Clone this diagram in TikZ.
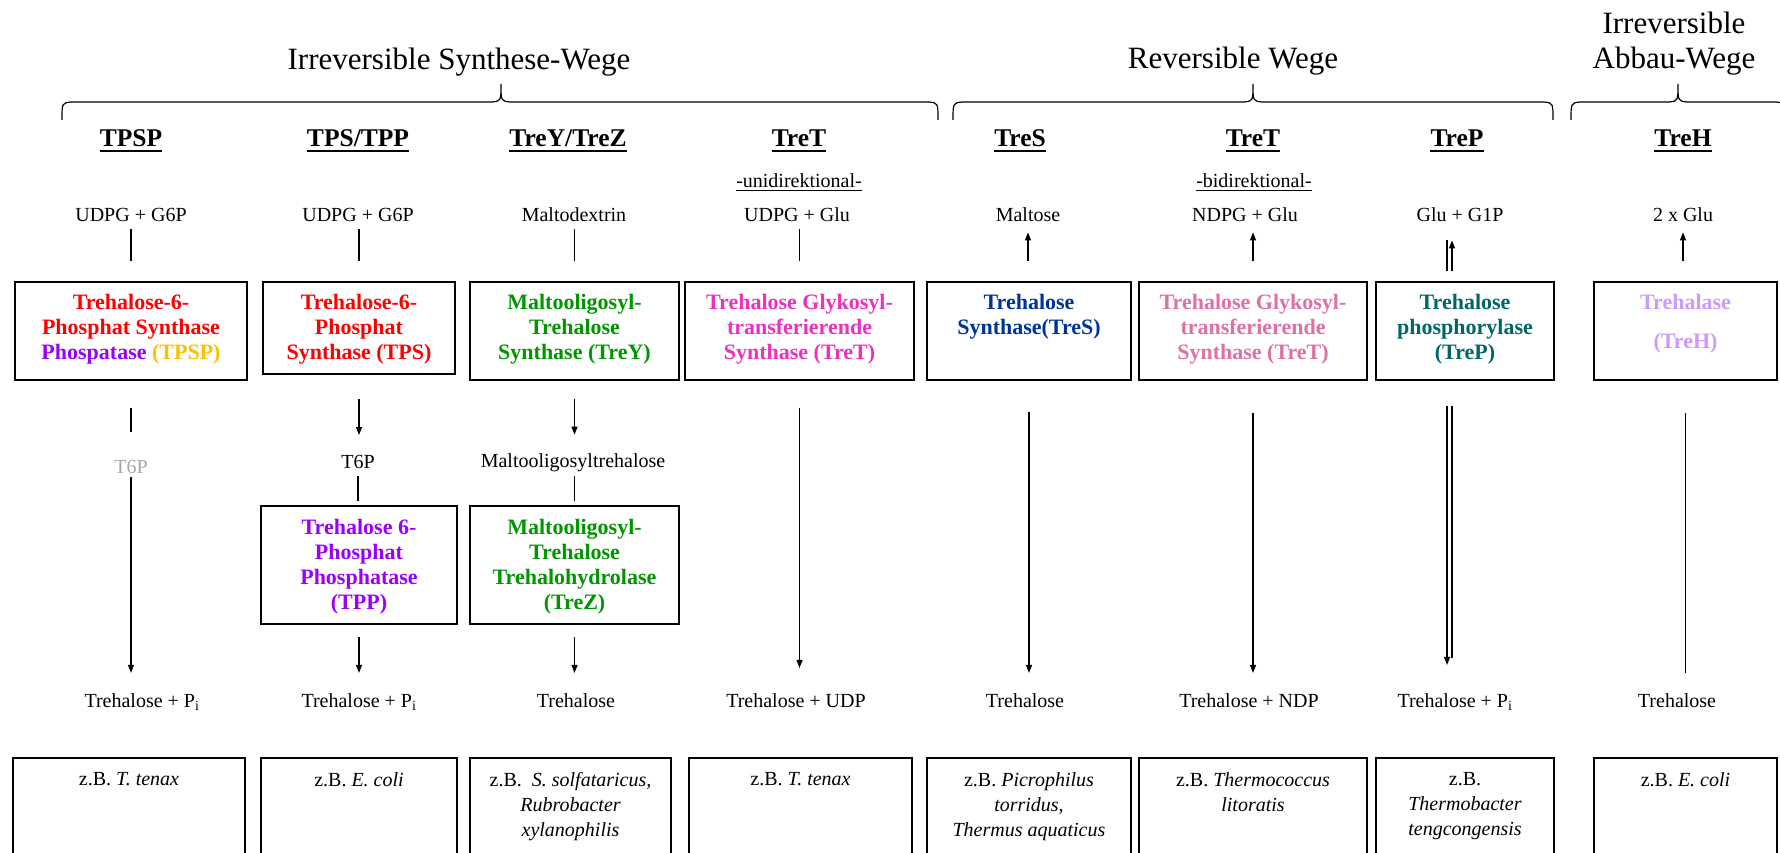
\documentclass[tikz,border=0pt]{standalone}
\usepackage{fontspec}
\setmainfont{Liberation Serif}
\usetikzlibrary{arrows.meta}
\definecolor{tpsred}{RGB}{255,0,0}
\definecolor{tppviolet}{RGB}{153,0,255}
\definecolor{tpsporange}{RGB}{255,192,0}
\definecolor{treygreen}{RGB}{0,150,0}
\definecolor{tretmagenta}{RGB}{238,48,190}
\definecolor{tresblue}{RGB}{0,51,153}
\definecolor{tretpink}{RGB}{222,112,164}
\definecolor{trepteal}{RGB}{0,102,102}
\definecolor{trehlilac}{RGB}{204,153,255}
\definecolor{tsixgray}{RGB}{166,166,166}
\def\wegbrace(#1,#2,#3){\draw[bracepath] (#1,120) .. controls (#1,103) .. ({#1+9},102) -- ({#3-9},102) .. controls (#3,101) .. (#3,84) .. controls (#3,101) .. ({#3+9},102) -- ({#2-9},102) .. controls (#2,103) .. (#2,120);}
\tikzset{
  txt/.style={inner sep=0pt, anchor=base, font=\fontsize{20}{25}\selectfont},
  titletxt/.style={inner sep=0pt, font=\fontsize{31}{35}\selectfont},
  headtxt/.style={inner sep=0pt, anchor=base, font=\fontsize{25.5}{30}\selectfont\bfseries},
  enzbox/.style={draw, line width=1.5pt, inner sep=0pt},
  enztxt/.style={inner sep=0pt, anchor=north, align=center, font=\fontsize{22}{25}\selectfont\bfseries},
  orgtxt/.style={inner sep=0pt, anchor=north, align=center, font=\fontsize{20}{25}\selectfont},
  link/.style={line width=1.2pt},
  arr/.style={link, -{Triangle[length=8pt,width=6pt]}},
  bracepath/.style={line width=1.2pt},
  uline/.style={line width=1.2pt}
}
\begin{document}
\begin{tikzpicture}[x=1pt,y=-1pt]
	\clip (0,0) rectangle (1780,853);
	%%%%% TITLES %%%%%
	\node[titletxt, anchor=base] (tirr) at (459,70) {Irreversible Synthese-Wege};
	\node[titletxt, anchor=base] (trev) at (1233,69) {Reversible Wege};
	\node[titletxt, anchor=north, align=center] (tabb) at (1674,12) {Irreversible\\Abbau-Wege};
	\wegbrace(62,938,501)
	\wegbrace(953,1553,1253)
	\wegbrace(1571,1785,1678)
	
	%%%%% HEADINGS %%%%%
	\node[headtxt] (h1) at (131,147) {TPSP};
	\node[headtxt] (h2) at (358,147) {TPS/TPP};
	\node[headtxt] (h3) at (568,147) {TreY/TreZ};
	\node[headtxt] (h4) at (799,147) {TreT};
	\node[headtxt] (h5) at (1020,147) {TreS};
	\node[headtxt] (h6) at (1253,147) {TreT};
	\node[headtxt] (h7) at (1457,147) {TreP};
	\node[headtxt] (h8) at (1683,147) {TreH};
	\foreach \n in {1,...,8}
		\draw[uline] ([yshift=-4pt]h\n.base west) -- ([yshift=-4pt]h\n.base east);
	\node[txt] (uni) at (799,188) {-unidirektional-};
	\node[txt] (bidi) at (1254,188) {-bidirektional-};
	\draw[link, line width=1pt] ([yshift=-2.5pt]uni.base west) -- ([yshift=-2.5pt]uni.base east);
	\draw[link, line width=1pt] ([yshift=-2.5pt]bidi.base west) -- ([yshift=-2.5pt]bidi.base east);
	
	%%%%% SUBSTRATES %%%%%
	\node[txt] (s1) at (131,222) {UDPG + G6P};
	\node[txt] (s2) at (358,222) {UDPG + G6P};
	\node[txt] (s3) at (574,222) {Maltodextrin};
	\node[txt] (s4) at (797,222) {UDPG + Glu};
	\node[txt] (s5) at (1028,222) {Maltose};
	\node[txt] (s6) at (1245,222) {NDPG + Glu};
	\node[txt] (s7) at (1460,222) {Glu + G1P};
	\node[txt] (s8) at (1683,222) {2 x Glu};
	
	%%%%% ENZYMES %%%%%
	\node[enzbox, minimum width=232pt, minimum height=98pt] (e1) at (131,331) {};
	\node[enzbox, minimum width=192pt, minimum height=92pt] (e2) at (359,328) {};
	\node[enzbox, minimum width=209pt, minimum height=98pt] (e3) at (574.5,331) {};
	\node[enzbox, minimum width=229pt, minimum height=98pt] (e4) at (799.5,331) {};
	\node[enzbox, minimum width=204pt, minimum height=98pt] (e5) at (1029,331) {};
	\node[enzbox, minimum width=228pt, minimum height=98pt] (e6) at (1253,331) {};
	\node[enzbox, minimum width=178pt, minimum height=98pt] (e7) at (1465,331) {};
	\node[enzbox, minimum width=183pt, minimum height=98pt] (e8) at (1685.5,331) {};
	\node[enzbox, minimum width=196pt, minimum height=118pt] (e2b) at (359,565) {};
	\node[enzbox, minimum width=209pt, minimum height=118pt] (e3b) at (574.5,565) {};
	
	\node[enztxt, text=tpsred] (n1) at ([yshift=-13pt]e1.north) {Trehalose-6-\\Phosphat Synthase\\\textcolor{tppviolet}{Phospatase} \textcolor{tpsporange}{(TPSP)}};
	\node[enztxt, text=tpsred] (n2) at ([yshift=-13pt]e2.north) {Trehalose-6-\\Phosphat\\Synthase (TPS)};
	\node[enztxt, text=treygreen] (n3) at ([yshift=-13pt]e3.north) {Maltooligosyl-\\Trehalose\\Synthase (TreY)};
	\node[enztxt, text=tretmagenta] (n4) at ([yshift=-13pt]e4.north) {Trehalose Glykosyl-\\transferierende\\Synthase (TreT)};
	\node[enztxt, text=tresblue] (n5) at ([yshift=-13pt]e5.north) {Trehalose\\Synthase(TreS)};
	\node[enztxt, text=tretpink] (n6) at ([yshift=-13pt]e6.north) {Trehalose Glykosyl-\\transferierende\\Synthase (TreT)};
	\node[enztxt, text=trepteal] (n7) at ([yshift=-13pt]e7.north) {Trehalose\\phosphorylase\\(TreP)};
	\node[enztxt, text=trehlilac] (n8) at ([yshift=-13pt]e8.north) {Trehalase\\[14pt](TreH)};
	\node[enztxt, text=tppviolet] (n2b) at ([yshift=-14pt]e2b.north) {Trehalose 6-\\Phosphat\\Phosphatase\\(TPP)};
	\node[enztxt, text=treygreen] (n3b) at ([yshift=-14pt]e3b.north) {Maltooligosyl-\\Trehalose\\Trehalohydrolase\\(TreZ)};
	
	%%%%% INTERMEDIATES AND PRODUCTS %%%%%
	\node[txt, text=tsixgray] (t6p1) at (131,473) {T6P};
	\node[txt] (t6p2) at (358,468) {T6P};
	\node[txt] (mot) at (573,467) {Maltooligosyltrehalose};
	\node[txt] (tp1) at (142,707) {Trehalose + P\textsubscript{i}};
	\node[txt] (tp2) at (359,707) {Trehalose + P\textsubscript{i}};
	\node[txt] (tr3) at (576,707) {Trehalose};
	\node[txt] (tu4) at (796,707) {Trehalose + UDP};
	\node[txt] (tr5) at (1025,707) {Trehalose};
	\node[txt] (tn6) at (1249,707) {Trehalose + NDP};
	\node[txt] (tp7) at (1455,707) {Trehalose + P\textsubscript{i}};
	\node[txt] (tr8) at (1677,707) {Trehalose};
	
	%%%%% ORGANISMS %%%%%
	\node[enzbox, minimum width=232pt, minimum height=112pt] (o1) at (129,814) {};
	\node[enzbox, minimum width=196pt, minimum height=112pt] (o2) at (359,814) {};
	\node[enzbox, minimum width=201pt, minimum height=112pt] (o3) at (570.5,814) {};
	\node[enzbox, minimum width=223pt, minimum height=112pt] (o4) at (800.5,814) {};
	\node[enzbox, minimum width=204pt, minimum height=112pt] (o5) at (1029,814) {};
	\node[enzbox, minimum width=228pt, minimum height=112pt] (o6) at (1253,814) {};
	\node[enzbox, minimum width=178pt, minimum height=112pt] (o7) at (1465,814) {};
	\node[enzbox, minimum width=183pt, minimum height=112pt] (o8) at (1685.5,814) {};
	\node[orgtxt] (g1) at ([yshift=-15pt]o1.north) {z.B. \textit{T. tenax}};
	\node[orgtxt] (g2) at ([yshift=-15pt]o2.north) {z.B. \textit{E. coli}};
	\node[orgtxt] (g3) at ([yshift=-15pt]o3.north) {z.B.\ \ \textit{S. solfataricus,}\\\textit{Rubrobacter}\\\textit{xylanophilis}};
	\node[orgtxt] (g4) at ([yshift=-15pt]o4.north) {z.B. \textit{T. tenax}};
	\node[orgtxt] (g5) at ([yshift=-15pt]o5.north) {z.B. \textit{Picrophilus}\\\textit{torridus,}\\\textit{Thermus aquaticus}};
	\node[orgtxt] (g6) at ([yshift=-15pt]o6.north) {z.B. \textit{Thermococcus}\\\textit{litoratis}};
	\node[orgtxt] (g7) at ([yshift=-15pt]o7.north) {z.B.\\\textit{Thermobacter}\\\textit{tengcongensis}};
	\node[orgtxt] (g8) at ([yshift=-15pt]o8.north) {z.B. \textit{E. coli}};
	
	%%%%% UPPER CONNECTORS %%%%%
	\draw[link, shorten <=7pt, shorten >=20pt] (e1.north |- s1.south) -- (e1.north);
	\draw[link, shorten <=7pt, shorten >=20pt] (e2.north |- s2.south) -- (e2.north);
	\draw[link, shorten <=7pt, shorten >=20pt] (e3.north |- s3.south) -- (e3.north);
	\draw[link, shorten <=7pt, shorten >=20pt] (e4.north |- s4.south) -- (e4.north);
	\draw[arr, shorten <=20pt, shorten >=10pt] (s5.south |- e5.north) -- (s5.south);
	\draw[arr, shorten <=20pt, shorten >=10pt] (e6.north) -- (e6.north |- s6.south);
	\draw[link, shorten <=10pt, shorten >=18pt] ([xshift=-18pt]e7.north) -- ([xshift=-18pt]e7.north |- s7.south);
	\draw[arr, shorten <=10pt, shorten >=18pt] ([xshift=-13pt]e7.north) -- ([xshift=-13pt]e7.north |- s7.south);
	\draw[arr, shorten <=20pt, shorten >=10pt] (s8.south |- e8.north) -- (s8.south);
	
	%%%%% LOWER CONNECTORS %%%%%
	\draw[link, shorten <=27pt, shorten >=27.5pt] (e1.south) -- (e1.south |- t6p1.north);
	\draw[arr, shorten <=4pt, shorten >=20pt] (t6p1.south) -- (t6p1.south |- tp1.north);
	\draw[arr, shorten <=24pt, shorten >=19.5pt] (e2.south) -- (e2.south |- t6p2.north);
	\draw[link, shorten <=8pt, shorten >=4pt] (t6p2.south) -- (t6p2.south |- e2b.north);
	\draw[arr, shorten <=12pt, shorten >=20pt] (e2b.south) -- (e2b.south |- tp2.north);
	\draw[arr, shorten <=18pt, shorten >=18.3pt] (e3.south) -- (e3.south |- mot.north);
	\draw[link, shorten <=4.7pt, shorten >=4pt] (e3b.north |- mot.south) -- (e3b.north);
	\draw[arr, shorten <=12pt, shorten >=20pt] (e3b.south) -- (e3b.south |- tr3.north);
	\draw[arr, shorten <=27pt, shorten >=25pt] (e4.south) -- (e4.south |- tu4.north);
	\draw[arr, shorten <=31pt, shorten >=20pt] (e5.south) -- (e5.south |- tr5.north);
	\draw[arr, shorten <=32pt, shorten >=20pt] (e6.south) -- (e6.south |- tn6.north);
	\draw[arr, shorten <=25pt, shorten >=28pt] ([xshift=-18pt]e7.south) -- ([xshift=-18pt]e7.south |- tp7.north);
	\draw[link, shorten <=25pt, shorten >=35pt] ([xshift=-13pt]e7.south) -- ([xshift=-13pt]e7.south |- tp7.north);
	\draw[link, shorten <=32pt, shorten >=20pt] (e8.south) -- (e8.south |- tr8.north);
\end{tikzpicture}
\end{document}
